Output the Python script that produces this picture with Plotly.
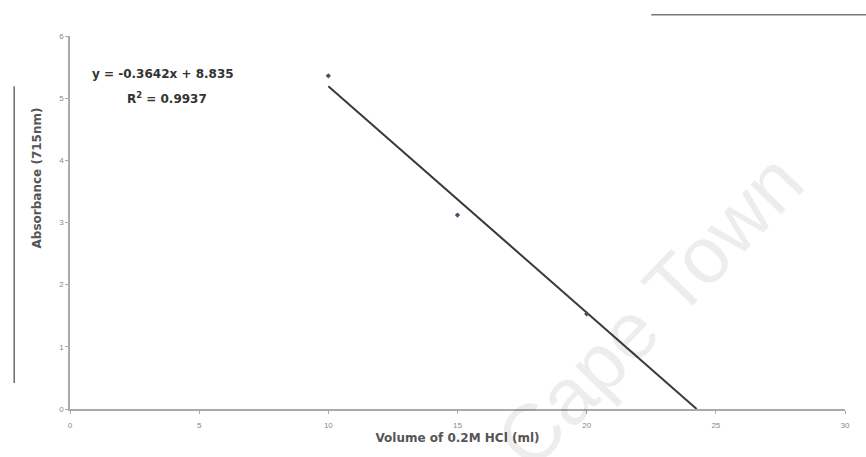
import plotly.graph_objects as go

# Data
volume_hcl = [10, 15, 20]            # ml of 0.2M HCl
absorbance = [5.36, 3.12, 1.53]      # absorbance at 715 nm
slope = -0.3642
intercept = 8.835
r_squared = 0.9937
x_ticks = [0, 5, 10, 15, 20, 25, 30]
y_ticks = [0, 1, 2, 3, 4, 5, 6]

# trendline from first point to x-intercept
x_end = -intercept / slope
trend_x = [volume_hcl[0], x_end]
trend_y = [slope * x + intercept for x in trend_x]

fig = go.Figure()
fig.add_trace(go.Scatter(
    x=trend_x, y=trend_y, mode="lines",
    line=dict(color="#3a3a3a", width=2), showlegend=False, hoverinfo="skip"))
fig.add_trace(go.Scatter(
    x=volume_hcl, y=absorbance, mode="markers",
    marker=dict(color="#46506a", size=4, symbol="diamond"), showlegend=False))

# faint watermark (semi-transparent so the line shows through)
fig.add_annotation(
    xref="paper", yref="paper", x=0.748, y=0.265, xanchor="center", yanchor="middle",
    text="Cape Town", showarrow=False, textangle=-46,
    font=dict(family="Liberation Sans, Arial", size=80, color="rgba(0,0,0,0.07)"))

eq_font = dict(family="DejaVu Sans", size=12, color="#333333")
fig.add_annotation(
    xref="paper", yref="paper", x=0.026, y=0.897, xanchor="left", yanchor="middle",
    text="<b>y = -0.3642x + 8.835</b>", showarrow=False, font=eq_font)
fig.add_annotation(
    xref="paper", yref="paper", x=0.071, y=0.835, xanchor="left", yanchor="middle",
    text="<b>R<sup>2</sup> = 0.9937</b>", showarrow=False, font=eq_font)

# y-axis title (placed above centre as in the original)
fig.add_annotation(
    xref="paper", yref="paper", x=-0.043, y=0.62, xanchor="center", yanchor="middle",
    text="<b>Absorbance (715nm)</b>", textangle=-90, showarrow=False,
    font=dict(family="DejaVu Sans", size=12, color="#555555"))

# scan border artifacts
fig.add_shape(type="line", xref="paper", yref="paper", x0=-0.072, x1=-0.072, y0=0.07, y1=0.865,
              line=dict(color="#6a6a6a", width=1.5), layer="below")
fig.add_shape(type="line", xref="paper", yref="paper", x0=0.75, x1=1.03, y0=1.057, y1=1.057,
              line=dict(color="#777777", width=1.5), layer="below")

axis_font = dict(family="Liberation Sans, Arial", size=8, color="#888888")
fig.update_layout(
    width=866, height=457,
    margin=dict(l=70, r=21, t=36, b=48),
    paper_bgcolor="white", plot_bgcolor="white",
    font=dict(family="Liberation Sans, Arial"),
    xaxis=dict(range=[0, 30], tickvals=x_ticks, showgrid=False, zeroline=False,
               showline=True, linecolor="#aaaaaa", linewidth=1.5,
               ticks="outside", ticklen=3, tickcolor="#aaaaaa",
               tickfont=axis_font, ticklabelstandoff=5,
               title=dict(text="<b>Volume of 0.2M HCl (ml)</b>", standoff=4,
                          font=dict(family="DejaVu Sans", size=12, color="#555555"))),
    yaxis=dict(range=[0, 6], tickvals=y_ticks, showgrid=False, zeroline=False,
               showline=True, linecolor="#aaaaaa", linewidth=1.5,
               ticks="outside", ticklen=3, tickcolor="#aaaaaa",
               tickfont=axis_font),
)

fig.write_html("out.html")
